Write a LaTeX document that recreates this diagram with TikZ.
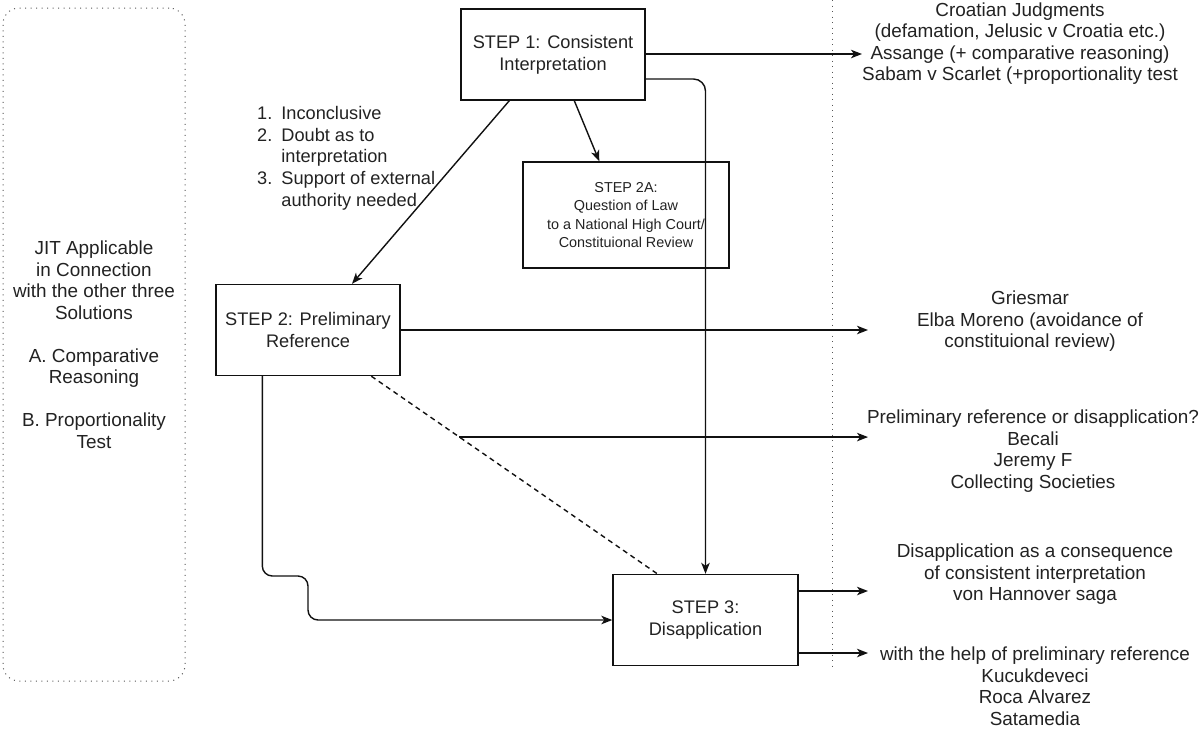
\documentclass[tikz,border=0pt]{standalone}
\usepackage{fontspec}
\setmainfont{Liberation Sans}
\usetikzlibrary{arrows.meta,calc}
\definecolor{txt}{HTML}{222222}
\definecolor{ln}{HTML}{111111}
\definecolor{dotc}{HTML}{555555}
\begin{document}
\begin{tikzpicture}[x=1pt,y=-1pt,
  every node/.style={font=\fontsize{18.2}{21.7}\selectfont, text=txt, inner sep=0pt, align=center},
  bigtext/.style={font=\fontsize{18.9}{21.5}\selectfont},
  stepbox/.style={draw=ln, line width=1.4pt, minimum width=184, minimum height=91},
  smallbox/.style={draw=ln, line width=1.4pt, minimum width=206, minimum height=106,
     font=\fontsize{14.4}{18.3}\selectfont},
  conn/.style={draw=ln, line width=1.4pt},
  arr/.style={conn, -{Stealth[length=11pt,width=8.5pt,inset=3pt]}},
  dotline/.style={draw=dotc, line width=1pt, dash pattern=on 1pt off 4.5pt}
]
\useasboundingbox (0,0) rectangle (1201,729);

% left dotted panel
\node[dotline, bigtext, rounded corners=16, minimum width=182, minimum height=673] (jit) at (94,344.5)
  {JIT Applicable\\in Connection\\with the other three\\Solutions\\[21.5pt]A. Comparative\\Reasoning\\[21.5pt]B. Proportionality\\Test};

% vertical dotted divider
\coordinate (dtop) at (832,0);
\coordinate (dbot) at (832,668);
\draw[dotline] (dtop) -- (dbot);

% step boxes
\node[stepbox] (s1) at (553,54.5) {STEP 1: Consistent\\Interpretation};
\node[smallbox] (s2a) at (626,215) {STEP 2A:\\Question of Law\\to a National High Court/\\Constituional Review};
\node[stepbox] (s2) at (308,330) {STEP 2: Preliminary\\Reference};
\node[stepbox, minimum width=185] (s3) at (705.5,620) {STEP 3:\\Disapplication};

% list
\node[anchor=west, align=left] (lst) at (257,158.5) {%
  \begin{tabular}{@{}l@{\hspace{9pt}}l@{}}
  1. & Inconclusive\\
  2. & Doubt as to\\
     & interpretation\\
  3. & Support of external\\
     & authority needed
  \end{tabular}};

% right-hand texts
\node[bigtext] (r1) at (1020,43.5) {Croatian Judgments\\(defamation, Jelusic v Croatia etc.)\\Assange (+ comparative reasoning)\\Sabam v Scarlet (+proportionality test};
\node[bigtext] (r2) at (1030,321.5) {Griesmar\\Elba Moreno (avoidance of\\constituional review)};
\node[bigtext] (r3) at (1033,451) {Preliminary reference or disapplication?\\Becali\\Jeremy F\\Collecting Societies};
\node[bigtext] (r4) at (1035,574.5) {Disapplication as a consequence\\of consistent interpretation\\von Hannover saga};
\node[bigtext] (r5) at (1035,686) {with the help of preliminary reference\\Kucukdeveci\\Roca Alvarez\\Satamedia};

% arrow end points
\coordinate (e1) at (862,54);
\coordinate (e2) at (868,330);
\coordinate (e3) at (868,437);
\coordinate (e4) at (868,591);
\coordinate (e5) at (868,653);

% connectors from STEP 1
\draw[arr] ($(s1.south west)+(49,0)$) -- ($(s2.north)+(44,0)$);
\draw[arr] ($(s1.south west)+(114,0)$) -- ($(s2a.north west)+(77,0)$);
\draw[arr] (s1.east |- e1) -- (e1);
\draw[arr, rounded corners=12] ($(s1.east)+(0,24.5)$) -| (s3.north);

% connectors from STEP 2
\draw[arr] (s2.east |- e2) -- (e2);
\coordinate (dA) at ($(s2.south west)+(156,0)$);
\coordinate (dB) at ($(s3.north west)+(45,0)$);
\draw[conn, dash pattern=on 5pt off 4pt] (dA) -- (dB);
\coordinate (dM) at ($(dA)!0.308!(dB)$);
\draw[arr] (dM) -- (dM -| e3);
\draw[arr, rounded corners=10] ($(s2.south west)+(47,0)$) |- (308,576) |- (s3.west);

% connectors from STEP 3
\draw[arr] (s3.east |- e4) -- (e4);
\draw[arr] (s3.east |- e5) -- (e5);
\end{tikzpicture}
\end{document}
